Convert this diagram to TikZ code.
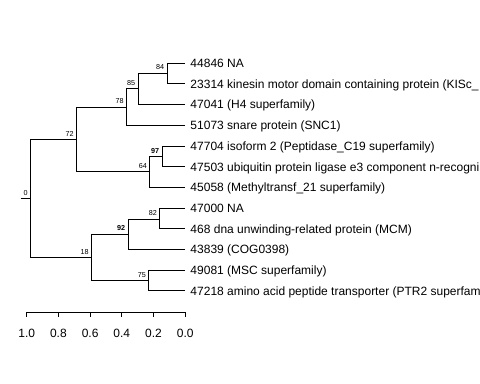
\documentclass[tikz,border=0pt]{standalone}
\usepackage{fontspec}
\setmainfont{Liberation Sans}
\begin{document}
\begin{tikzpicture}[x=0.75pt,y=-0.75pt,line width=0.75pt,
  tip/.style={font=\fontsize{9}{10}\selectfont,anchor=base west,inner sep=0pt,yshift=-3.2pt},
  support/.style={font=\fontsize{5.4}{6}\selectfont,anchor=south east,inner sep=0pt,xshift=-2pt,yshift=2.3pt},
  scalelabel/.style={font=\fontsize{9}{10}\selectfont,anchor=base,inner sep=0pt},
  elbow/.style={to path={|- (\tikztotarget)}}]
  \useasboundingbox (0,0) rectangle (480,384);
  \clip (0,0) rectangle (480,384);
  % internal nodes
  \coordinate (r0) at (20.7,198.7);
  \coordinate (n0) at (30.7,198.7);
  \coordinate (n72) at (76.7,139.7);
  \coordinate (n78) at (126.7,107.4);
  \coordinate (n85) at (138.3,88.8);
  \coordinate (n84) at (167.3,73.3);
  \coordinate (n64) at (150,172);
  \coordinate (n97) at (162.3,156.7);
  \coordinate (n18) at (91.7,257.7);
  \coordinate (n92) at (128.3,234.6);
  \coordinate (n82) at (160,219.2);
  \coordinate (n75) at (149,280.9);
  % tips
  \coordinate (t1) at (185.5,63.3);
  \coordinate (t2) at (185.5,84.0);
  \coordinate (t3) at (185.5,104.7);
  \coordinate (t4) at (185.5,125.4);
  \coordinate (t5) at (185.5,146.1);
  \coordinate (t6) at (185.5,166.8);
  \coordinate (t7) at (185.5,187.5);
  \coordinate (t8) at (185.5,208.2);
  \coordinate (t9) at (185.5,228.9);
  \coordinate (t10) at (185.5,249.6);
  \coordinate (t11) at (185.5,270.3);
  \coordinate (t12) at (185.5,291.0);
  \node[tip] (l1) at (190,63.3) {44846 NA};
  \node[tip] (l2) at (190,84.0) {23314 kinesin motor domain containing protein (KISc\_};
  \node[tip] (l3) at (190,104.7) {47041 (H4 superfamily)};
  \node[tip] (l4) at (190,125.4) {51073 snare protein (SNC1)};
  \node[tip] (l5) at (190,146.1) {47704 isoform 2 (Peptidase\_C19 superfamily)};
  \node[tip] (l6) at (190,166.8) {47503 ubiquitin protein ligase e3 component n-recogni};
  \node[tip] (l7) at (190,187.5) {45058 (Methyltransf\_21 superfamily)};
  \node[tip] (l8) at (190,208.2) {47000 NA};
  \node[tip] (l9) at (190,228.9) {468 dna unwinding-related protein (MCM)};
  \node[tip] (l10) at (190,249.6) {43839 (COG0398)};
  \node[tip] (l11) at (190,270.3) {49081 (MSC superfamily)};
  \node[tip] (l12) at (190,291.0) {47218 amino acid peptide transporter (PTR2 superfam};
  % branches
  \draw (r0) -- (n0);
  \path[draw]
  (n0) edge[elbow] (n72)
  (n0) edge[elbow] (n18)
  (n72) edge[elbow] (n78)
  (n72) edge[elbow] (n64)
  (n78) edge[elbow] (n85)
  (n78) edge[elbow] (t4)
  (n85) edge[elbow] (n84)
  (n85) edge[elbow] (t3)
  (n84) edge[elbow] (t1)
  (n84) edge[elbow] (t2)
  (n64) edge[elbow] (n97)
  (n64) edge[elbow] (t7)
  (n97) edge[elbow] (t5)
  (n97) edge[elbow] (t6)
  (n18) edge[elbow] (n92)
  (n18) edge[elbow] (n75)
  (n92) edge[elbow] (n82)
  (n92) edge[elbow] (t10)
  (n82) edge[elbow] (t8)
  (n82) edge[elbow] (t9)
  (n75) edge[elbow] (t11)
  (n75) edge[elbow] (t12);
  % support values
  \node[support] (s0) at (n0) {0};
  \node[support] (s72) at (n72) {72};
  \node[support] (s78) at (n78) {78};
  \node[support] (s85) at (n85) {85};
  \node[support] (s84) at (n84) {84};
  \node[support] (s64) at (n64) {64};
  \node[support,font=\fontsize{5.4}{6}\selectfont\bfseries] (s97) at (n97) {97};
  \node[support] (s18) at (n18) {18};
  \node[support,font=\fontsize{5.4}{6}\selectfont\bfseries] (s92) at (n92) {92};
  \node[support] (s82) at (n82) {82};
  \node[support] (s75) at (n75) {75};
  % scale
  \coordinate (a0) at (26.7,312.3);
  \coordinate (a1) at (185.2,312.3);
  \draw (a0) -- (a1);
  \draw (26.7,312.3) -- (26.7,317.3);
  \draw (58.4,312.3) -- (58.4,317.3);
  \draw (90.1,312.3) -- (90.1,317.3);
  \draw (121.8,312.3) -- (121.8,317.3);
  \draw (153.5,312.3) -- (153.5,317.3);
  \draw (185.2,312.3) -- (185.2,317.3);
  \node[scalelabel] (x10) at (26.7,337.3) {1.0};
  \node[scalelabel] (x08) at (58.4,337.3) {0.8};
  \node[scalelabel] (x06) at (90.1,337.3) {0.6};
  \node[scalelabel] (x04) at (121.8,337.3) {0.4};
  \node[scalelabel] (x02) at (153.5,337.3) {0.2};
  \node[scalelabel] (x00) at (185.2,337.3) {0.0};
\end{tikzpicture}
\end{document}
